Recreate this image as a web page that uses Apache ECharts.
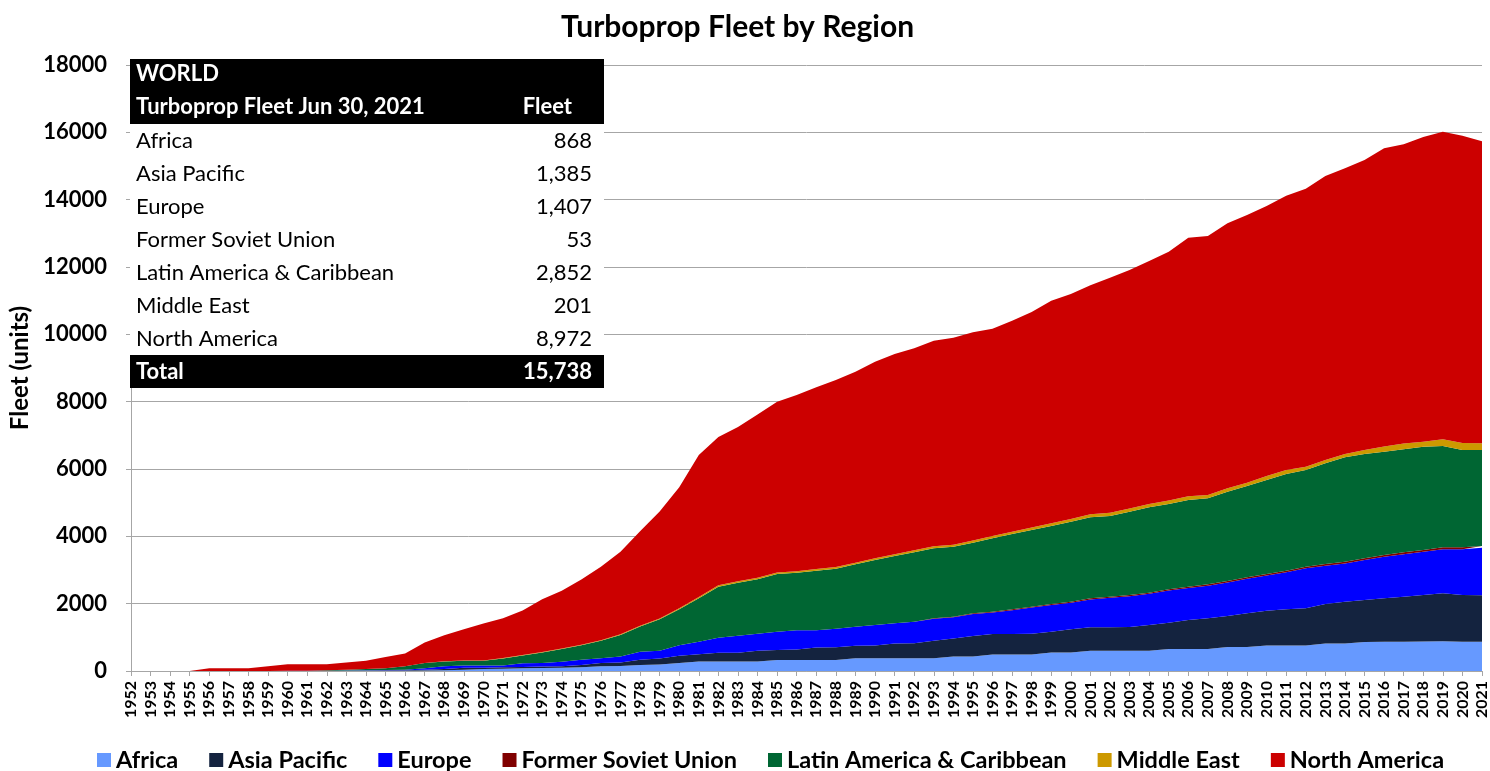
<!DOCTYPE html>
<html>
<head>
<meta charset="utf-8">
<script src="https://cdn.jsdelivr.net/npm/echarts@6/dist/echarts.min.js"></script>
<style>
html,body{margin:0;padding:0;background:#fff;}
#chart{width:1490px;height:771px;}
</style>
</head>
<body>
<div id="chart"></div>
<script>
// ---- data ----
const years = [];
for (let y = 1952; y <= 2021; y++) years.push(String(y));

const africa = [0,0,0,0,0,0,0,0,0,0,0,
  5,5,10,10,15,20,40,60,
  70,80,90,100,110,140,150,180,190,240,
  280,280,280,280,330,330,330,330,380,380,380,380,380,430,430,490,490,490,550,550,
  600,600,600,600,650,650,650,710,710,760,760,760,820,820,860,870,870,875,880,870,868];

const asiaPacific = [0,0,0,0,0,0,0,0,0,0,
  5,5,10,10,10,25,40,60,40,40,40,40,40,67,96,106,155,184,213,
  215,265,265,324,295,310,370,375,372,380,440,445,520,534,610,609,610,620,618,687,
  697,700,710,766,785,865,914,924,1003,1032,1072,1101,1170,1239,1249,1288,1338,1382,1427,1387,1385];

const europe = [0,0,0,0,0,0,0,0,
  5,5,5,5,5,
  10,20,40,80,60,60,55,110,110,135,155,140,175,235,230,315,
  376,445,505,506,543,568,508,552,565,606,
  595,640,649,632,653,641,707,773,792,792,
  829,875,912,926,953,950,970,997,1024,1044,
  1100,1188,1138,1136,1185,1232,1262,1282,1311,1363,1407];

const formerSovietUnion = [0,0,0,0,0,0,0,0,0,0,0,0,0,0,0,0,0,0,0,0,0,0,0,0,0,0,0,0,0,0,0,0,0,0,0,0,0,0,0,0,0,
  15,18,20,22,25,28,30,30,32,33,35,35,38,40,40,42,45,45,48,50,50,52,52,55,55,55,55,53,53];

const latinAmerica = [0,0,0,0,0,0,0,0,0,0,
  10,25,40,50,100,156,145,145,145,209,233,311,375,436,520,642,750,933,1064,
  1287,1515,1574,1613,1713,1712,1772,1782,1851,1931,
  2001,2060,2079,2079,2099,2179,2237,2277,2317,2377,
  2406,2396,2476,2534,2534,2574,2554,2653,2713,2792,
  2871,2871,2990,3099,3099,3070,3059,3069,3010,2891,2852];

const middleEast = [0,0,0,0,0,0,0,0,0,0,0,0,0,0,0,
  5,5,5,10,10,10,10,15,15,20,20,25,25,30,
  40,40,40,45,45,45,50,50,50,55,
  55,60,60,60,65,70,70,75,80,80,
  90,95,95,100,105,110,100,100,100,120,
  120,100,100,100,120,150,170,150,200,210,201];

const northAmerica = [0,0,0,0,
  80,80,80,140,195,195,180,216,245,335,380,609,775,930,1095,1181,1327,1569,1720,1937,2179,2452,2805,3178,3598,
  4217,4405,4586,4852,5074,5232,5395,5554,5672,5835,
  5944,5999,6107,6147,6183,6156,6266,6399,6613,6681,
  6801,6983,7082,7216,7390,7681,7692,7870,7948,8017,
  8146,8255,8432,8484,8612,8859,8889,9047,9135,9126,8972];

const seriesNames = ['Africa','Asia Pacific','Europe','Former Soviet Union','Latin America & Caribbean','Middle East','North America'];
const seriesColors = ['#6699FF','#14233F','#0000FF','#800000','#006633','#CC9900','#CC0000'];
const seriesData = [africa, asiaPacific, europe, formerSovietUnion, latinAmerica, middleEast, northAmerica];

const tableTitle = 'WORLD';
const tableSubtitle = 'Turboprop Fleet Jun 30, 2021';
const tableColHeader = 'Fleet';
const tableRegions = ['Africa','Asia Pacific','Europe','Former Soviet Union','Latin America & Caribbean','Middle East','North America'];
const tableFleet = ['868','1,385','1,407','53','2,852','201','8,972'];
const tableTotalLabel = 'Total';
const tableTotal = '15,738';

// ---- chart ----
const FONT = 'Lato, "Open Sans", sans-serif';
const chart = echarts.init(document.getElementById('chart'), null, {renderer: 'canvas'});

const tX = 130, tW = 474, tRight = 592, TF = 22;
const graphics = [];
graphics.push({type:'rect', left:tX, top:59, shape:{width:tW, height:65}, style:{fill:'#000'}, z:100});
graphics.push({type:'rect', left:tX, top:124, shape:{width:tW, height:231}, style:{fill:'#fff'}, z:100});
graphics.push({type:'rect', left:tX, top:355, shape:{width:tW, height:33}, style:{fill:'#000'}, z:100});
graphics.push({type:'text', left:136, top:63, style:{text:tableTitle, fill:'#fff', font:'bold '+TF+'px '+FONT}, z:101});
graphics.push({type:'text', left:136, top:96, style:{text:tableSubtitle, fill:'#fff', font:'bold '+TF+'px '+FONT}, z:101});
graphics.push({type:'text', right:1490-572, top:96, style:{text:tableColHeader, fill:'#fff', font:'bold '+TF+'px '+FONT}, z:101});
tableRegions.forEach((r, i) => {
  const y = 130 + i * 33;
  graphics.push({type:'text', left:136, top:y, style:{text:r, fill:'#000', font:TF+'px '+FONT}, z:101});
  graphics.push({type:'text', right:1490-tRight, top:y, style:{text:tableFleet[i], fill:'#000', font:TF+'px '+FONT}, z:101});
});
graphics.push({type:'text', left:136, top:361, style:{text:tableTotalLabel, fill:'#fff', font:'bold '+TF+'px '+FONT}, z:101});
graphics.push({type:'text', right:1490-tRight, top:361, style:{text:tableTotal, fill:'#fff', font:'bold '+TF+'px '+FONT}, z:101});

const option = {
  animation: false,
  backgroundColor: '#fff',
  textStyle: {fontFamily: FONT},
  title: {
    text: 'Turboprop Fleet by Region',
    left: 556,
    top: 7,
    textStyle: {fontFamily: FONT, fontSize: 30, fontWeight: 'bold', color: '#000'}
  },
  legend: {
    top: 743,
    left: 92,
    itemWidth: 14,
    itemHeight: 14,
    itemGap: 31,
    icon: 'rect',
    textStyle: {fontFamily: FONT, fontSize: 23.5, fontWeight: 'bold', color: '#000'},
    data: seriesNames
  },
  grid: {left: 131, right: 4, top: 65, bottom: 100},
  xAxis: {
    type: 'category',
    data: years,
    boundaryGap: false,
    axisLine: {lineStyle: {color: '#A6A6A6', width: 1}},
    axisTick: {show: true, length: 5, interval: 0, lineStyle: {color: '#A6A6A6'}},
    axisLabel: {rotate: 90, interval: 0, fontSize: 16, fontWeight: 'bold', color: '#000', fontFamily: FONT, margin: 10}
  },
  yAxis: {
    type: 'value',
    min: 0,
    max: 18000,
    interval: 2000,
    name: 'Fleet (units)',
    nameLocation: 'middle',
    nameGap: 95,
    nameRotate: 90,
    nameTextStyle: {fontFamily: FONT, fontSize: 24, fontWeight: 'bold', color: '#000'},
    axisLine: {show: true, lineStyle: {color: '#A6A6A6'}},
    axisTick: {show: true, length: 5, lineStyle: {color: '#A6A6A6'}},
    axisLabel: {fontSize: 22, fontWeight: 'bold', color: '#000', fontFamily: FONT, margin: 24,
      formatter: v => String(v)},
    splitLine: {show: true, lineStyle: {color: '#A6A6A6', width: 1}}
  },
  series: seriesNames.map((name, i) => ({
    name: name,
    type: 'line',
    stack: 'total',
    symbol: 'none',
    smooth: false,
    lineStyle: {width: 0, color: seriesColors[i]},
    itemStyle: {color: seriesColors[i]},
    areaStyle: {color: seriesColors[i], opacity: 1},
    data: seriesData[i],
    z: 2
  })),
  graphic: graphics
};
chart.setOption(option);
</script>
</body>
</html>
